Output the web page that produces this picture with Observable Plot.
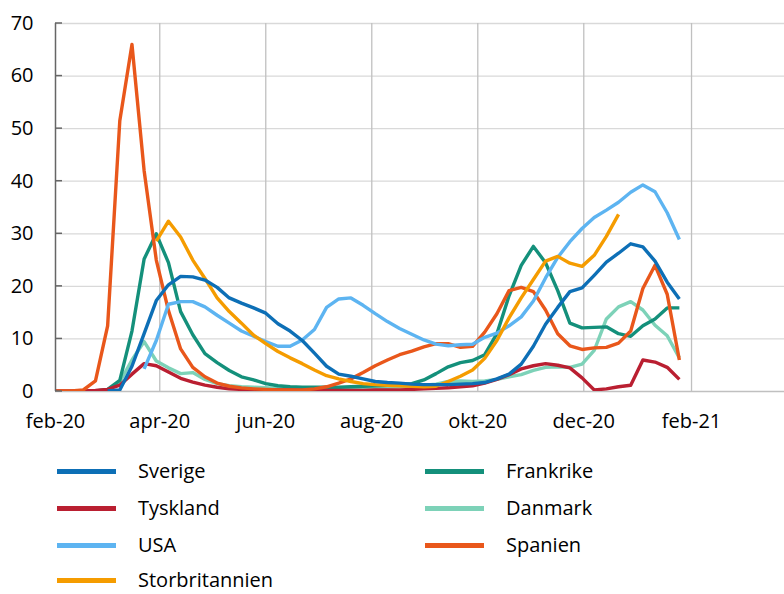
<!DOCTYPE html>
<html><head><meta charset="utf-8">
<script src="https://cdn.jsdelivr.net/npm/d3@7"></script>
<script src="https://cdn.jsdelivr.net/npm/@observablehq/plot@0.6"></script>
<style>
body{margin:0;background:#fff;font-family:"Open Sans",sans-serif;}
#wrap{position:relative;width:784px;height:594px;overflow:hidden;}
#chart{position:absolute;left:0;top:0;}
.leg{position:absolute;height:18px;line-height:18px;font-size:20px;color:#000;white-space:nowrap;}
.sw{position:absolute;width:59px;height:5px;}
</style></head><body><div id="wrap"><div id="chart"></div></div>
<script>
const weeks = ["2020-01-27","2020-02-03","2020-02-10","2020-02-17","2020-02-24","2020-03-02","2020-03-09","2020-03-16","2020-03-23","2020-03-30",
"2020-04-06","2020-04-13","2020-04-20","2020-04-27","2020-05-04","2020-05-11","2020-05-18","2020-05-25","2020-06-01","2020-06-08",
"2020-06-15","2020-06-22","2020-06-29","2020-07-06","2020-07-13","2020-07-20","2020-07-27","2020-08-03","2020-08-10","2020-08-17",
"2020-08-24","2020-08-31","2020-09-07","2020-09-14","2020-09-21","2020-09-28","2020-10-05","2020-10-12","2020-10-19","2020-10-26",
"2020-11-02","2020-11-09","2020-11-16","2020-11-23","2020-11-30","2020-12-07","2020-12-14","2020-12-21","2020-12-28","2021-01-04",
"2021-01-11","2021-01-18","2021-01-25"];

const Sverige = [null,null,null,null,null,0.1,0.3,4.8,11.0,17.3,
20.3,21.9,21.8,21.2,19.8,17.8,16.8,15.9,14.9,12.9,
11.5,9.7,7.3,4.8,3.3,2.9,2.4,1.9,1.7,1.6,
1.4,1.3,1.3,1.3,1.4,1.5,1.7,2.4,3.3,5.2,
8.6,12.8,16.0,19.0,19.7,22.1,24.6,26.3,28.1,27.5,
24.8,20.8,17.6];
const Tyskland = [0.1,0.1,0.1,0.1,0.2,0.4,1.2,3.3,5.3,4.9,
3.7,2.5,1.8,1.2,0.8,0.5,0.4,0.3,0.3,0.3,
0.3,0.2,0.2,0.2,0.2,0.2,0.2,0.3,0.3,0.3,
0.4,0.5,0.6,0.7,0.9,1.1,1.6,2.3,3.2,4.3,
4.9,5.3,5.0,4.5,2.6,0.3,0.5,0.9,1.2,6.0,
5.6,4.6,2.3];
const USA = [null,null,null,null,null,null,null,null,4.3,9.7,
16.6,17.1,17.1,16.1,14.5,13.0,11.5,10.5,9.5,8.6,
8.6,9.8,11.8,16.0,17.6,17.8,16.4,14.8,13.3,12.0,
10.9,9.8,9.0,8.7,8.9,9.0,10.3,11.1,12.5,14.2,
17.2,21.6,25.5,28.5,31.0,33.1,34.5,36.0,37.9,39.3,
38.0,34.0,28.9];
const Storbritannien = [null,null,null,null,null,null,null,null,null,28.6,
32.4,29.4,25.0,21.5,17.8,15.2,13.0,10.7,9.1,7.6,
6.4,5.3,4.1,3.0,2.4,1.9,1.5,1.3,1.2,1.1,
1.0,0.9,1.0,1.9,2.9,4.1,6.3,9.7,14.0,17.8,
21.3,24.8,25.7,24.4,23.8,25.9,29.5,33.7,null,null,
null,null,null];
const Frankrike = [null,null,null,null,0.1,0.4,2.1,11.5,25.2,30.0,
24.5,15.2,10.8,7.2,5.5,4.0,2.8,2.2,1.5,1.1,
0.9,0.8,0.8,0.8,0.8,0.9,1.0,1.1,1.2,1.3,
1.5,2.2,3.4,4.7,5.5,5.9,7.0,11.0,18.2,24.0,
27.6,24.5,19.2,13.0,12.1,12.2,12.3,11.0,10.5,12.5,
13.8,15.9,15.9];
const Danmark = [null,null,null,null,0.1,0.3,1.8,6.0,9.5,5.8,
4.5,3.4,3.6,2.3,1.5,1.1,0.9,0.8,0.7,0.6,
0.5,0.5,0.5,0.5,0.5,0.6,0.7,0.7,0.8,0.9,
1.0,1.2,1.4,1.9,2.0,1.9,2.0,2.3,2.8,3.2,
4.0,4.6,4.7,4.6,5.2,7.8,13.8,16.1,17.1,15.5,
12.6,10.6,6.4];
const Spanien = [0.0,0.1,0.1,0.3,2.0,12.5,51.5,66.0,42.0,25.0,
15.4,8.1,4.6,2.8,1.6,1.0,0.7,0.5,0.4,0.3,
0.3,0.3,0.5,0.9,1.6,2.4,3.6,4.9,6.0,7.0,
7.7,8.5,9.1,9.1,8.4,8.6,11.3,14.8,19.2,19.8,
19.0,15.5,11.0,8.7,8.0,8.3,8.4,9.2,11.5,19.6,
24.0,18.5,6.0];

const seriesValues = {Sverige, Tyskland, USA, Storbritannien, Frankrike, Danmark, Spanien};
const seriesColors = {
  Sverige: "#0D6FB6", Tyskland: "#BA1F31", USA: "#5DB4F1", Storbritannien: "#F59C00",
  Frankrike: "#14907B", Danmark: "#7DD2B8", Spanien: "#E9571B"
};
const drawOrder = ["Danmark","Frankrike","Tyskland","Spanien","USA","Storbritannien","Sverige"];
const legendCol1 = ["Sverige","Tyskland","USA","Storbritannien"];
const legendCol2 = ["Frankrike","Danmark","Spanien"];

const tickDates = ["2020-02-01","2020-04-01","2020-06-01","2020-08-01","2020-10-01","2020-12-01","2021-02-01"];
const tickLabels = ["feb-20","apr-20","jun-20","aug-20","okt-20","dec-20","feb-21"];
const yTicks = [0,10,20,30,40,50,60,70];
const xDomain = [new Date("2020-02-01T00:00:00Z"), new Date("2021-03-26T12:00:00Z")];

const rows = [];
for (const name of drawOrder) {
  seriesValues[name].forEach((v, i) => {
    if (v != null) rows.push({series: name, date: new Date(weeks[i] + "T00:00:00Z"), value: v});
  });
}
const tickDateObjs = tickDates.map(d => new Date(d + "T00:00:00Z"));

const chart = Plot.plot({
  width: 784, height: 440,
  marginLeft: 55, marginRight: 0, marginTop: 23, marginBottom: 49,
  style: {fontFamily: "'Open Sans', sans-serif", fontSize: "20px", color: "#000", background: "#fff", overflow: "visible"},
  x: {type: "utc", domain: xDomain, label: null},
  y: {domain: [0, 70], label: null},
  marks: [
    Plot.ruleY(yTicks.slice(1), {stroke: "#d9d9d9", strokeWidth: 1.3}),
    Plot.ruleX(tickDateObjs.slice(1), {stroke: "#c0c0c0", strokeWidth: 1.3}),
    Plot.ruleY([0], {stroke: "#c0c0c0", strokeWidth: 1.3}),
    Plot.axisX({ticks: tickDateObjs, tickFormat: (d) => tickLabels[tickDateObjs.findIndex(t => +t === +d)], tickSize: 0, tickPadding: 22, fontSize: 20, fill: "#000", label: null}),
    Plot.axisY({ticks: yTicks, tickSize: 0, tickPadding: 22, fontSize: 20, fill: "#000", label: null}),
    ...drawOrder.map(name => Plot.line(rows.filter(r => r.series === name), {
      x: "date", y: "value", stroke: seriesColors[name], strokeWidth: 3.4, clip: true,
      strokeLinejoin: "round", strokeLinecap: "butt"
    })),
    Plot.ruleX([xDomain[0]], {stroke: "#666", strokeWidth: 1.5}),
    Plot.tickY(yTicks, {y: d => d, stroke: "#666", strokeWidth: 1.5, render: (index, scales, values, dims) => {
      const g = d3.create("svg:g");
      for (const i of index) {
        g.append("line").attr("x1", dims.marginLeft).attr("x2", dims.marginLeft + 7)
          .attr("y1", values.y[i]).attr("y2", values.y[i])
          .attr("stroke", "#666").attr("stroke-width", 1.5);
      }
      return g.node();
    }})
  ]
});
document.getElementById("chart").appendChild(chart);

const wrap = document.getElementById("wrap");
function addLegend(names, swLeft, textLeft) {
  const rowY = [471, 508, 545, 580];
  names.forEach((name, i) => {
    const sw = document.createElement("div");
    sw.className = "sw";
    sw.style.left = swLeft + "px";
    sw.style.top = (rowY[i] - 2.5) + "px";
    sw.style.background = seriesColors[name];
    wrap.appendChild(sw);
    const t = document.createElement("div");
    t.className = "leg";
    t.style.left = textLeft + "px";
    t.style.top = (rowY[i] - 9) + "px";
    t.textContent = name;
    wrap.appendChild(t);
  });
}
addLegend(legendCol1, 57, 138);
addLegend(legendCol2, 425, 506);
</script>
</body></html>
